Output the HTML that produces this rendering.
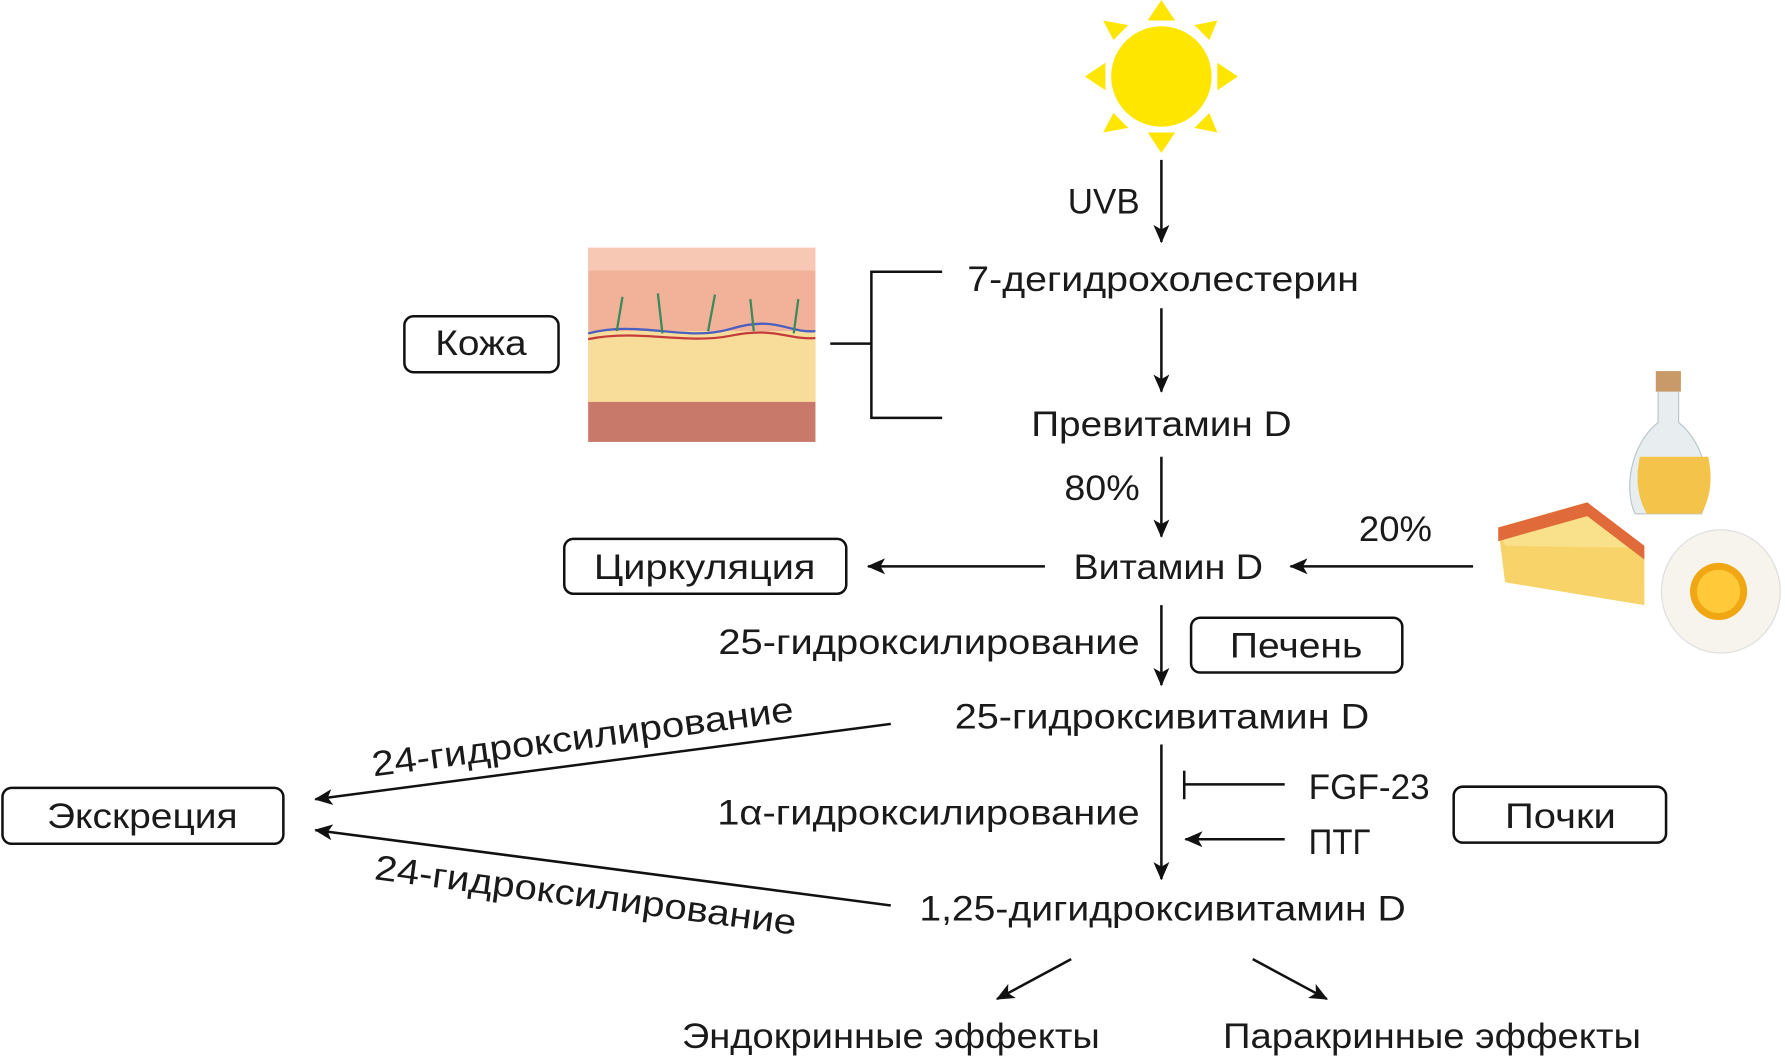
<!DOCTYPE html>
<html><head><meta charset="utf-8"><style>
html,body{margin:0;padding:0;background:#fff;width:1785px;height:1063px;overflow:hidden}
text{font-family:"Liberation Sans",sans-serif;fill:#1a1a1a}
</style></head><body>
<svg width="1785" height="1063" viewBox="0 0 1563 931" xmlns="http://www.w3.org/2000/svg">
<defs>
<marker id="a" viewBox="0 0 16 14" refX="15" refY="7" markerWidth="16" markerHeight="14" markerUnits="userSpaceOnUse" orient="auto"><path d="M0,0 L16,7 L0,14 L4,7 Z" fill="#111"/></marker>
</defs>
<g fill="#ffe600">
<circle cx="1017" cy="67" r="44"/>
<polygon points="1005,18 1029,18 1017,0"/>
<polygon points="1005,116 1029,116 1017,134"/>
<polygon points="968,55 968,79 950,67"/>
<polygon points="1066,55 1066,79 1084,67"/>
<polygon points="975,35 988,22 966,18"/>
<polygon points="1046,22 1059,35 1066,18"/>
<polygon points="975,99 988,112 966,116"/>
<polygon points="1046,112 1059,99 1066,116"/>
</g>
<g stroke="#111" stroke-width="2.2" fill="none">
<line x1="1017" y1="140" x2="1017" y2="212" marker-end="url(#a)"/>
<line x1="1017" y1="270" x2="1017" y2="343" marker-end="url(#a)"/>
<line x1="1017" y1="400" x2="1017" y2="470" marker-end="url(#a)"/>
<line x1="915" y1="496" x2="760" y2="496" marker-end="url(#a)"/>
<line x1="1290" y1="496" x2="1130" y2="496" marker-end="url(#a)"/>
<line x1="1017" y1="530" x2="1017" y2="600" marker-end="url(#a)"/>
<line x1="1017" y1="652" x2="1017" y2="770" marker-end="url(#a)"/>
<line x1="1125" y1="687" x2="1037" y2="687"/>
<line x1="1037" y1="675" x2="1037" y2="700"/>
<line x1="1125" y1="735" x2="1038" y2="735" marker-end="url(#a)"/>
<line x1="780" y1="634" x2="276" y2="700" marker-end="url(#a)"/>
<line x1="780" y1="793" x2="276" y2="727" marker-end="url(#a)"/>
<line x1="938" y1="840" x2="873" y2="875" marker-end="url(#a)"/>
<line x1="1097" y1="840" x2="1162" y2="875" marker-end="url(#a)"/>
<polyline points="825,238 763,238 763,366 825,366"/>
<line x1="727" y1="301" x2="763" y2="301"/>
<rect x="354" y="277" width="135" height="49" rx="8"/>
<rect x="494" y="472" width="247" height="48" rx="8"/>
<rect x="1043" y="541" width="185" height="48" rx="8"/>
<rect x="1273" y="689" width="186" height="49" rx="8"/>
<rect x="2" y="690" width="246" height="49" rx="8"/>
</g>
<g font-size="31">
<text lengthAdjust="spacingAndGlyphs" x="935" y="187" textLength="63">UVB</text>
<text lengthAdjust="spacingAndGlyphs" x="847" y="255" textLength="343">7-дегидрохолестерин</text>
<text lengthAdjust="spacingAndGlyphs" x="903" y="382" textLength="228">Превитамин D</text>
<text lengthAdjust="spacingAndGlyphs" x="932" y="438" textLength="66">80%</text>
<text lengthAdjust="spacingAndGlyphs" x="940" y="507" textLength="166">Витамин D</text>
<text lengthAdjust="spacingAndGlyphs" x="1190" y="474" textLength="64">20%</text>
<text lengthAdjust="spacingAndGlyphs" x="629" y="573" textLength="369">25-гидроксилирование</text>
<text lengthAdjust="spacingAndGlyphs" x="836" y="638" textLength="363">25-гидроксивитамин D</text>
<text lengthAdjust="spacingAndGlyphs" x="628" y="722" textLength="370">1α-гидроксилирование</text>
<text lengthAdjust="spacingAndGlyphs" x="1146" y="700" textLength="106">FGF-23</text>
<text lengthAdjust="spacingAndGlyphs" x="1146" y="748" textLength="54">ПТГ</text>
<text lengthAdjust="spacingAndGlyphs" x="805" y="806" textLength="426">1,25-дигидроксивитамин D</text>
<text lengthAdjust="spacingAndGlyphs" x="597" y="918" textLength="366">Эндокринные эффекты</text>
<text lengthAdjust="spacingAndGlyphs" x="1071" y="918" textLength="366">Паракринные эффекты</text>
<text lengthAdjust="spacingAndGlyphs" x="381" y="311" textLength="80">Кожа</text>
<text lengthAdjust="spacingAndGlyphs" x="520" y="507" textLength="194">Циркуляция</text>
<text lengthAdjust="spacingAndGlyphs" x="1077" y="576" textLength="116">Печень</text>
<text lengthAdjust="spacingAndGlyphs" x="1318" y="725" textLength="97">Почки</text>
<text lengthAdjust="spacingAndGlyphs" x="41" y="725" textLength="167">Экскреция</text>
<text lengthAdjust="spacingAndGlyphs" x="327" y="680" textLength="372" transform="rotate(-7.5 327 680)">24-гидроксилирование</text>
<text lengthAdjust="spacingAndGlyphs" x="327" y="770" textLength="372" transform="rotate(7.5 327 770)">24-гидроксилирование</text>
</g>
<rect x="515" y="217" width="199" height="170" fill="#f2b29a"/>
<rect x="515" y="217" width="199" height="20" fill="#f7c9b4"/>
<rect x="515" y="290" width="199" height="65" fill="#f8dc9a"/>
<rect x="515" y="352" width="199" height="35" fill="#c9796a"/>
<g stroke-width="2" fill="none">
<path d="M515,292 C560,280 600,300 640,288 S690,292 714,290" stroke="#4a5fc0"/>
<path d="M515,297 C560,288 600,302 640,294 S690,298 714,296" stroke="#c43c3c"/>
<path d="M540,290 l5,-30 M580,292 l-4,-35 M620,290 l6,-32 M660,290 l-3,-28 M695,292 l4,-30" stroke="#3a8a5a"/>
</g>
<path d="M1452,340 h18 v30 c25,20 30,60 20,80 h-58 c-10,-20 -5,-60 20,-80 z" fill="#e8eef0" stroke="#b8c4c8"/>
<path d="M1436,400 h60 c4,20 2,35 -6,50 h-48 c-8,-15 -10,-30 -6,-50 z" fill="#f3c34a"/>
<rect x="1450" y="325" width="22" height="18" fill="#c89a6a"/>
<polygon points="1312,462 1390,440 1440,480 1440,530 1318,510" fill="#f7d36a"/>
<polygon points="1312,462 1390,440 1440,480 1318,478" fill="#f9e08a"/>
<polygon points="1312,462 1390,440 1440,478 1440,490 1390,452 1312,474" fill="#e06a3a"/>
<ellipse cx="1507" cy="518" rx="52" ry="54" fill="#f6f4ec" stroke="#ddd"/>
<circle cx="1505" cy="518" r="25" fill="#f1a614"/>
<circle cx="1505" cy="518" r="19" fill="#ffc93a"/>
</svg>
</body></html>
